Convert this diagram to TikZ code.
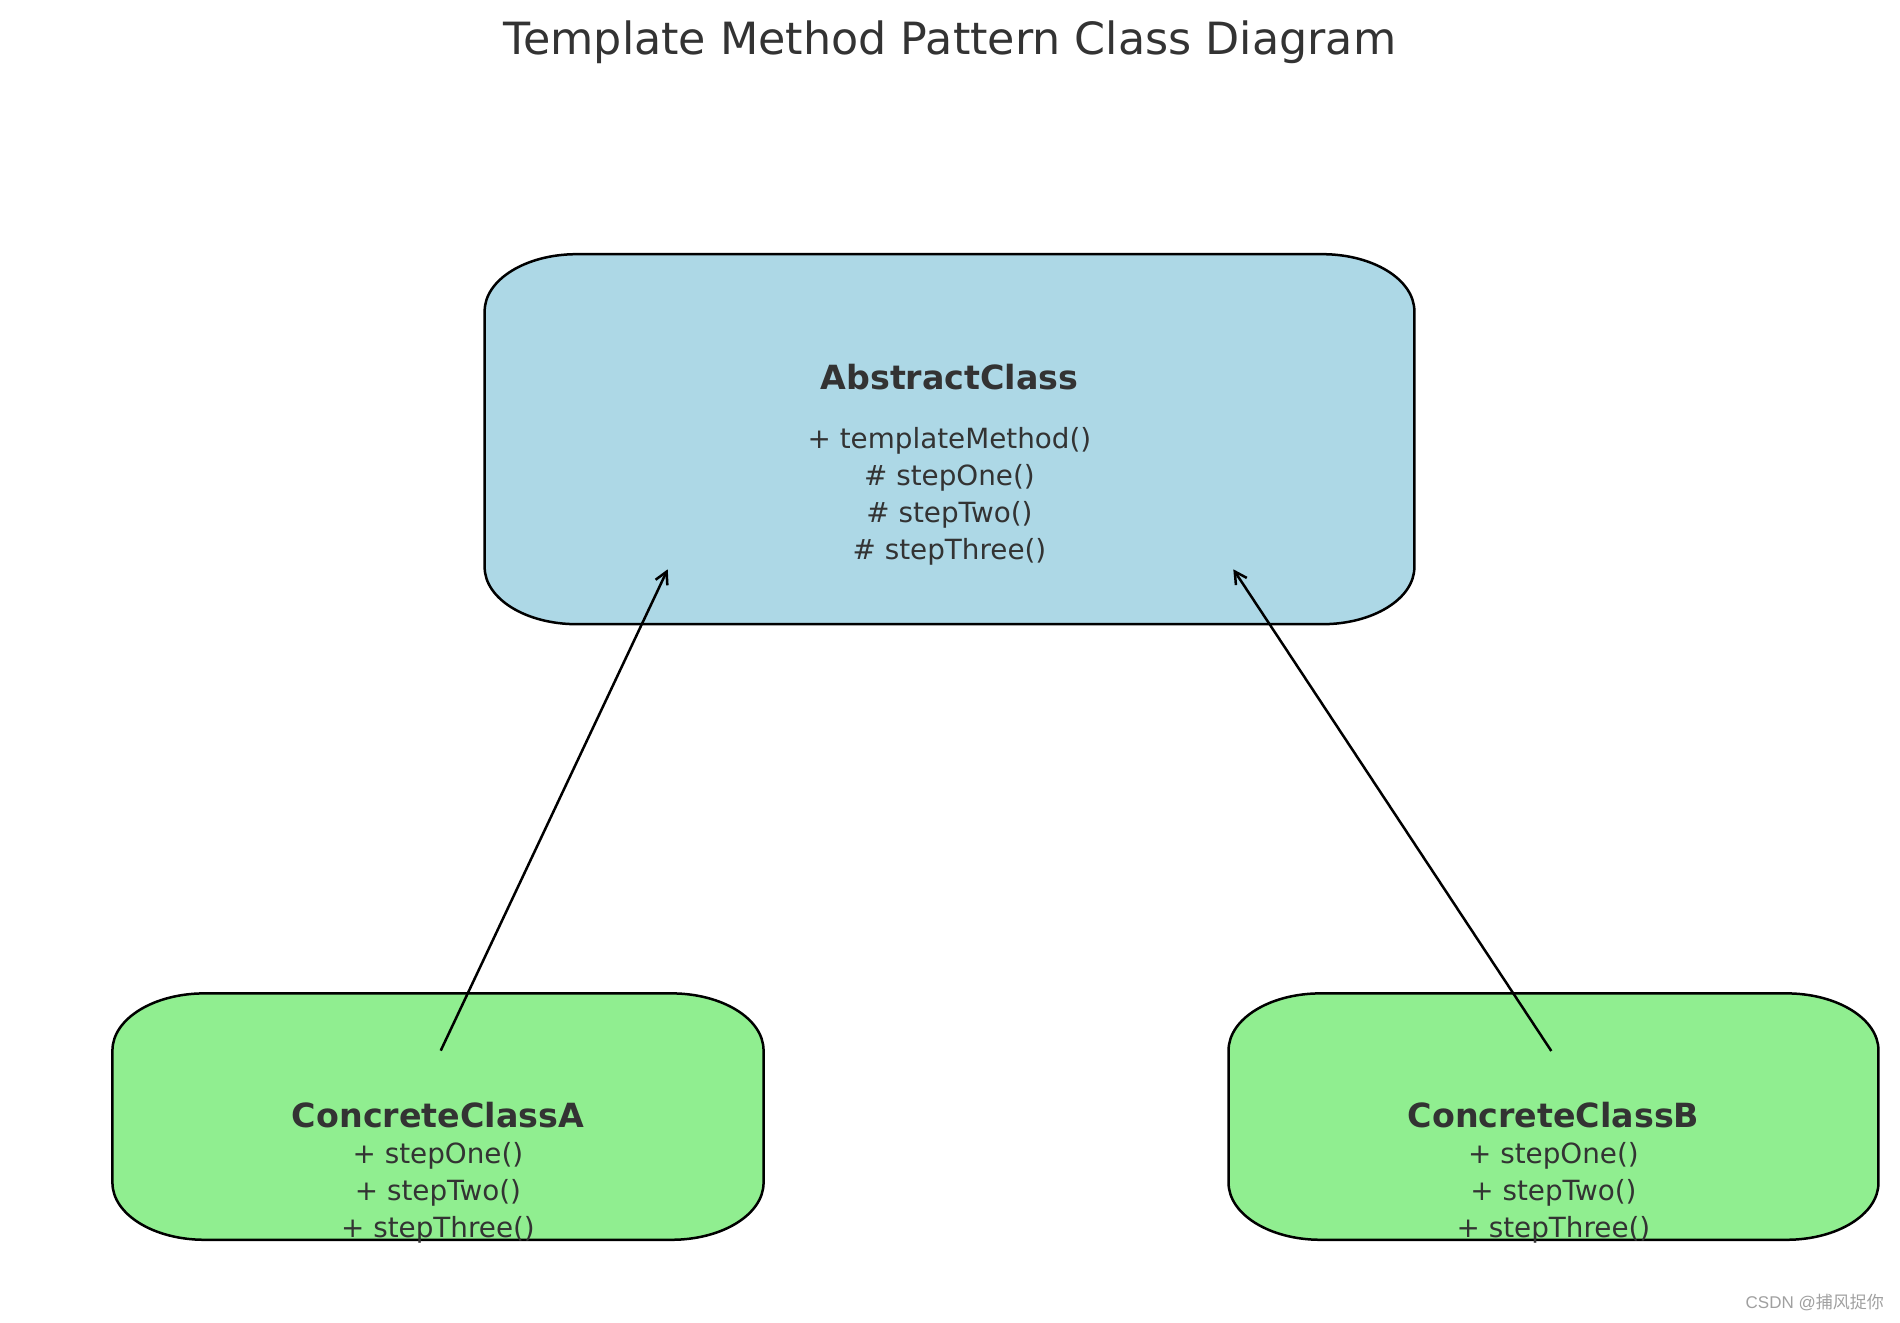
\documentclass[tikz,border=0pt]{standalone}
\usepackage{fontspec}
\setmainfont{DejaVu Sans}
\newfontfamily\wmlatin{Liberation Sans}
\newfontfamily\cjk{Noto Sans CJK SC}
\usetikzlibrary{arrows.meta,calc}
\definecolor{txt}{HTML}{333333}
\definecolor{absfill}{HTML}{ADD8E6}
\definecolor{concfill}{HTML}{90EE90}
\definecolor{wmgray}{HTML}{A0A0A0}
\def\bxrx{92}
\def\bxry{57}
\newcommand\ellbox[2]{%
  \draw[boxline, fill=#2] ($(#1.north west)+(\bxrx,0)$) -- ($(#1.north east)+(-\bxrx,0)$)
    arc[start angle=90, end angle=0, x radius=\bxrx, y radius=\bxry]
    -- ($(#1.south east)+(0,\bxry)$)
    arc[start angle=0, end angle=-90, x radius=\bxrx, y radius=\bxry]
    -- ($(#1.south west)+(\bxrx,0)$)
    arc[start angle=270, end angle=180, x radius=\bxrx, y radius=\bxry]
    -- ($(#1.north west)+(0,-\bxry)$)
    arc[start angle=180, end angle=90, x radius=\bxrx, y radius=\bxry] -- cycle;}
\tikzset{
  boxline/.style={line width=2.5pt, draw=black},
  boxarea/.style={rectangle, draw=none, inner sep=0pt},
  conn/.style={line width=2.5pt, draw=black, -{Straight Barb[length=12pt,width=13pt,line width=2.5pt]}},
  titlefont/.style={font=\fontsize{44.4}{53}\selectfont, text=txt, anchor=base, inner sep=0pt},
  hdr/.style={font=\fontsize{33.3}{40}\selectfont\bfseries, text=txt, anchor=base, inner sep=0pt},
  meth/.style={font=\fontsize{27.8}{37.2}\selectfont, text=txt, anchor=base, inner sep=0pt},
  wmark/.style={font=\fontsize{17}{20}\selectfont, text=wmgray, anchor=base east, inner sep=0pt},
}
\begin{document}
\begin{tikzpicture}[x=1pt,y=1pt]
\fill[white] (0,0) rectangle (1900,1322);
\useasboundingbox (0,0) rectangle (1900,1322);

\node[titlefont] (title) at (950,1267.5) {Template Method Pattern Class Diagram};

% boxes
\node[boxarea, minimum width=929.3pt, minimum height=369.6pt] (abs) at (949.5,882.8) {};
\node[boxarea, minimum width=650.7pt, minimum height=246pt] (cA) at (438,205.4) {};
\node[boxarea, minimum width=649.5pt, minimum height=246pt] (cB) at (1553.5,205.4) {};
\ellbox{abs}{absfill}
\ellbox{cA}{concfill}
\ellbox{cB}{concfill}

% abstract class text
\node[hdr] (absh) at (949.5,932.5) {AbstractClass};
\node[meth] (absm1) at (949.5,873.6) {+ templateMethod()};
\node[meth] (absm2) at (949.5,836.4) {\# stepOne()};
\node[meth] (absm3) at (949.5,799.2) {\# stepTwo()};
\node[meth] (absm4) at (949.5,762) {\# stepThree()};

% concrete A text
\node[hdr] (cAh) at (438,194) {ConcreteClassA};
\node[meth] (cAm1) at (438,158.7) {+ stepOne()};
\node[meth] (cAm2) at (438,121.5) {+ stepTwo()};
\node[meth] (cAm3) at (438,84.3) {+ stepThree()};

% concrete B text
\node[hdr] (cBh) at (1553.5,194) {ConcreteClassB};
\node[meth] (cBm1) at (1553.5,158.7) {+ stepOne()};
\node[meth] (cBm2) at (1553.5,121.5) {+ stepTwo()};
\node[meth] (cBm3) at (1553.5,84.3) {+ stepThree()};

% connectors
\coordinate (a0) at (440.7,271.3);
\coordinate (a1) at (667.7,752.7);
\coordinate (b0) at (1551.3,271);
\coordinate (b1) at (1233.3,752.7);
\draw[conn] (a0) -- (a1);
\draw[conn] (b0) -- (b1);

\node[wmark] (wm) at (1884,13) {\wmlatin CSDN @\cjk 捕风捉你};
\end{tikzpicture}
\end{document}
